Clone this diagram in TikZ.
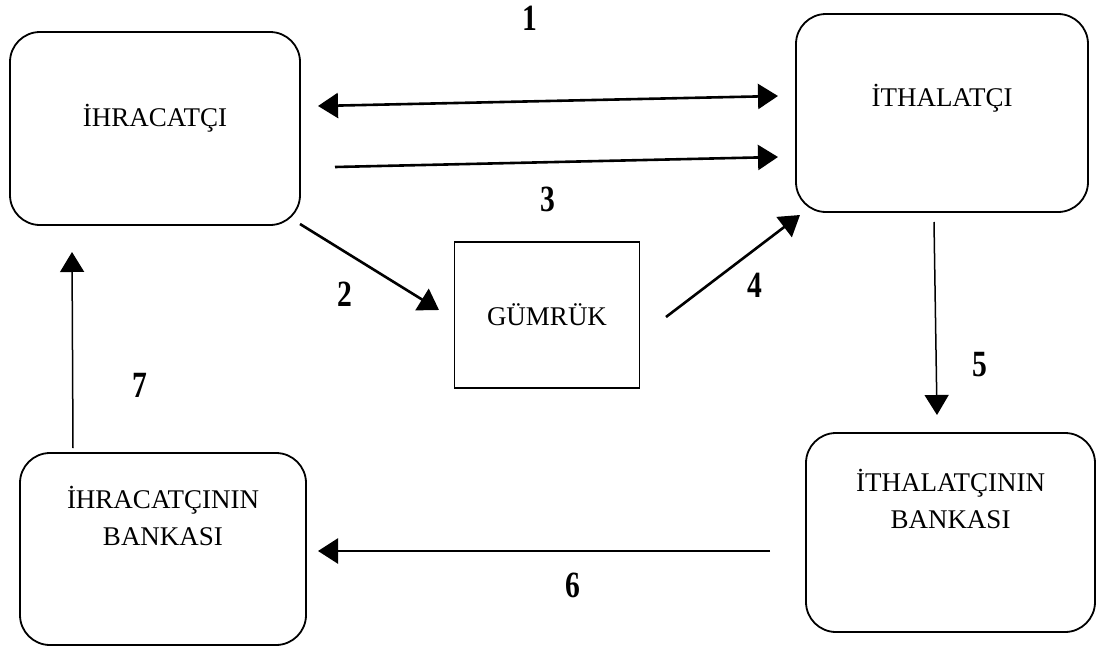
\documentclass[tikz,border=0pt]{standalone}
\usepackage{fontspec}
\usepackage{graphicx}
\setmainfont{Liberation Serif}
\usetikzlibrary{arrows.meta}

% narrow bold figures for the step numbers
\newcommand{\stepfig}[1]{\scalebox{0.8}[1]{#1}}

\tikzset{
  partybox/.style={draw, line width=1.8pt, rounded corners=30pt, inner sep=0pt},
  officebox/.style={draw, line width=1.8pt, inner sep=0pt},
  boxtext/.style={font=\fontsize{27}{37}\selectfont, align=center, inner sep=0pt},
  stepnum/.style={font=\fontsize{37}{37}\selectfont\bfseries, inner sep=0pt},
  flow/.style={line width=2.6pt, -{Triangle[length=20pt,width=25pt]}},
  thinflow/.style={line width=1.5pt, -{Triangle[length=20pt,width=24pt]}},
  twoway/.style={line width=2.6pt, {Triangle[length=20pt,width=25pt]}-{Triangle[length=20pt,width=25pt]}}
}

\begin{document}
\begin{tikzpicture}[x=1pt, y=-1pt]
  \useasboundingbox (0,0) rectangle (1103,653);

  % parties and banks
  \node[partybox, minimum width=290pt, minimum height=193pt] (exp) at (155,128.5) {};
  \node[boxtext] (expT) at (155,118) {İHRACATÇI};

  \node[partybox, minimum width=292pt, minimum height=198pt] (imp) at (942,113) {};
  \node[boxtext] (impT) at (942,98) {İTHALATÇI};

  \node[officebox, minimum width=185pt, minimum height=146pt] (cus) at (547,315) {};
  \node[boxtext] (cusT) at (547,315) {GÜMRÜK};

  \node[partybox, minimum width=286pt, minimum height=192pt] (expb) at (163,549) {};
  \node[boxtext] (expbT) at (163,516) {İHRACATÇININ\\BANKASI};

  \node[partybox, minimum width=289pt, minimum height=199pt] (impb) at (950.5,532.5) {};
  \node[boxtext] (impbT) at (950.5,498.5) {İTHALATÇININ\\BANKASI};

  % arrow end points
  \coordinate (a1s) at (318,106);
  \coordinate (a1e) at (778,96);
  \coordinate (a3s) at (335,167);
  \coordinate (a3e) at (778,157);
  \coordinate (a2s) at (300,224);
  \coordinate (a2e) at (439,310);
  \coordinate (a4s) at (666,317);
  \coordinate (a4e) at (800,215);
  \coordinate (a5s) at (934,222);
  \coordinate (a5e) at (937,415);
  \coordinate (a6s) at (770,551);
  \coordinate (a6e) at (318,551);
  \coordinate (a7s) at (73,448);
  \coordinate (a7e) at (72,252);

  % flows between the parties
  \draw[twoway] (a1s) -- (a1e);
  \draw[flow] (a3s) -- (a3e);
  \draw[flow] (a2s) -- (a2e);
  \draw[flow] (a4s) -- (a4e);
  \draw[thinflow] (a5s) -- (a5e);
  \draw[flow] (a6s) -- (a6e);
  \draw[thinflow] (a7s) -- (a7e);

  % step numbers
  \node[stepnum] (n1) at (530,18) {\stepfig{1}};
  \node[stepnum] (n2) at (345,294) {\stepfig{2}};
  \node[stepnum] (n3) at (548,199) {\stepfig{3}};
  \node[stepnum] (n4) at (755,285) {\stepfig{4}};
  \node[stepnum] (n5) at (980,365) {\stepfig{5}};
  \node[stepnum] (n6) at (573,585) {\stepfig{6}};
  \node[stepnum] (n7) at (140,385) {\stepfig{7}};
\end{tikzpicture}
\end{document}
